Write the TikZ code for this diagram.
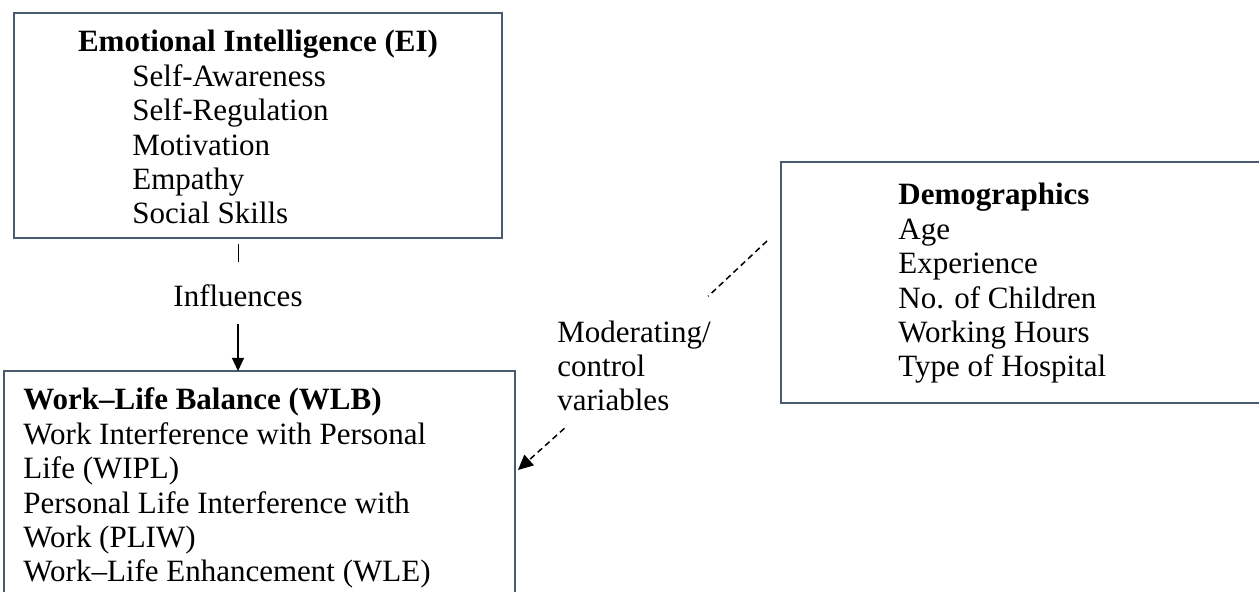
\documentclass[tikz,border=0pt]{standalone}
\usepackage{fontspec}
\setmainfont{Liberation Serif}
\usepackage{xcolor}
\usetikzlibrary{arrows.meta,positioning,calc}
\definecolor{edgeblue}{HTML}{4A5A70}

\begin{document}
\begin{tikzpicture}[
    x=0.5pt,y=-0.5pt,
    box/.style={draw=edgeblue,line width=0.8pt,inner sep=0pt,outer sep=0pt,anchor=north west},
    txt/.style={align=left,inner sep=0pt,font=\fontsize{15.5}{17.2}\selectfont},
    modline/.style={dash pattern=on 3pt off 2pt,line width=0.75pt},
    >={Triangle[length=6.5pt,width=6pt]}
  ]
    \useasboundingbox (0,0) rectangle (1259,592);
    \node[box,minimum width=244pt,minimum height=112.5pt] (ei) at (14,13) {};
    \node[box,minimum width=255.5pt,minimum height=135pt] (wlb) at (4,371) {};
    \node[box,minimum width=250pt,minimum height=120.5pt] (demo) at (781,162) {};
    \node[txt,anchor=base] (eititle) at (258,52) {\bfseries Emotional Intelligence (EI)};
    \node[txt,anchor=base west] (eilist) at (132,224) {Self-Awareness\\Self-Regulation\\Motivation\\Empathy\\Social Skills};
    \node[txt,anchor=base west] (wlbtext) at (23,582) {\textbf{Work--Life Balance (WLB)}\\Work Interference with Personal\\Life (WIPL)\\Personal Life Interference with\\Work (PLIW)\\Work--Life Enhancement (WLE)};
    \node[txt,anchor=base west] (demotext) at (898,377) {\textbf{Demographics}\\Age\\Experience\\No. of Children\\Working Hours\\Type of Hospital};
    \node[txt,anchor=base] (infl) at (238,307) {Influences};
    \node[txt,anchor=base west,inner ysep=12pt] (mod) at (557,411) {Moderating/\\control\\variables};
    \coordinate (mstart) at (767,241);
    \coordinate (mend) at (518,470);
    \draw[line width=0.5pt,shorten <=3pt,shorten >=11.25pt] (infl.north |- ei.south) -- (infl.north);
    \draw[->,line width=0.6pt,shorten <=8pt] (infl.south) -- (infl.south |- wlb.north);
    \draw[modline] (mstart) -- (mod);
    \draw[modline,-{Triangle[length=7.5pt,width=7pt]},shorten <=-5pt] (mod) -- (mend);
  \end{tikzpicture}
\end{document}
